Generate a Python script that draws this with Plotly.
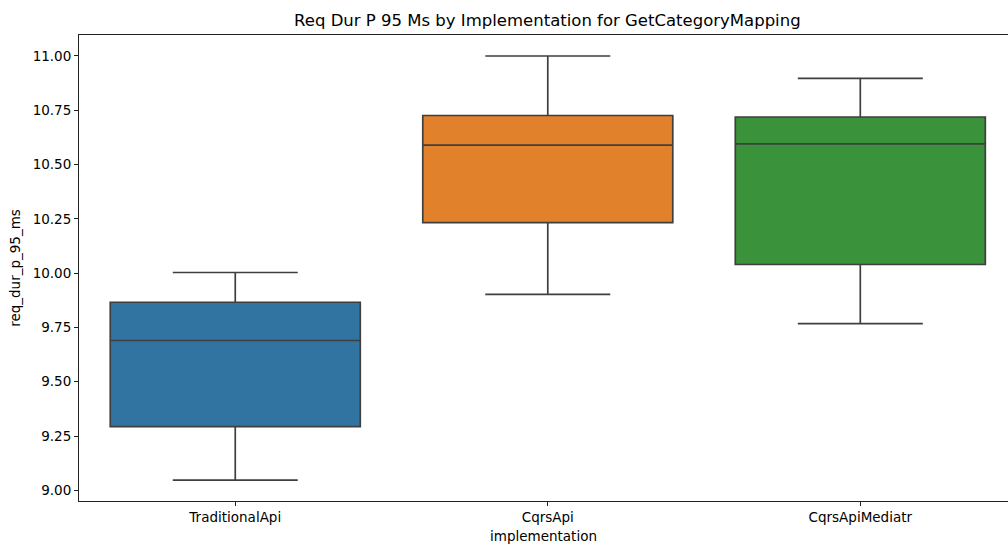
import plotly.graph_objects as go

categories = ["TraditionalApi", "CqrsApi", "CqrsApiMediatr"]
lower_fence = [9.047, 9.902, 9.768]
q1 = [9.293, 10.233, 10.040]
median = [9.690, 10.590, 10.595]
q3 = [9.866, 10.726, 10.719]
upper_fence = [10.003, 11.000, 10.897]
colors = ["#3274a1", "#e1812c", "#3a923a"]
y_ticks = [9.00, 9.25, 9.50, 9.75, 10.00, 10.25, 10.50, 10.75, 11.00]

fig = go.Figure()
for i, cat in enumerate(categories):
    fig.add_trace(go.Box(
        x=[cat], q1=[q1[i]], median=[median[i]], q3=[q3[i]],
        lowerfence=[lower_fence[i]], upperfence=[upper_fence[i]],
        fillcolor=colors[i], line=dict(color="#3f3f3f", width=1.7),
        width=0.8, whiskerwidth=0.5, boxpoints=False,
        showlegend=False, hoverinfo="skip",
    ))

font = "DejaVu Sans, Liberation Sans, sans-serif"
fig.update_layout(
    width=1008, height=545,
    margin=dict(l=79, r=0, t=35, b=44),
    paper_bgcolor="white", plot_bgcolor="white",
    font=dict(family=font, size=13.5, color="black"),
    title=dict(text="Req Dur P 95 Ms by Implementation for GetCategoryMapping",
               x=0.543, xanchor="center", y=0.963, yanchor="middle",
               font=dict(size=16.5, color="black")),
    xaxis=dict(
        type="category", range=[-0.5, 2.4726],
        showline=True, linecolor="#222", linewidth=1, mirror=True,
        ticks="outside", ticklen=4, tickcolor="#222",
        showgrid=False, zeroline=False,
        title=dict(text="implementation", standoff=7, font=dict(size=13.5)),
    ),
    yaxis=dict(
        range=[8.951, 11.0966], tickvals=y_ticks,
        ticktext=[f"{v:.2f}" for v in y_ticks],
        showline=True, linecolor="#222", linewidth=1,
        ticks="outside", ticklen=4, tickcolor="#222",
        showgrid=False, zeroline=False,
        title=dict(text="req_dur_p_95_ms", standoff=8, font=dict(size=13.5)),
    ),
)

fig.write_html("out.html")
